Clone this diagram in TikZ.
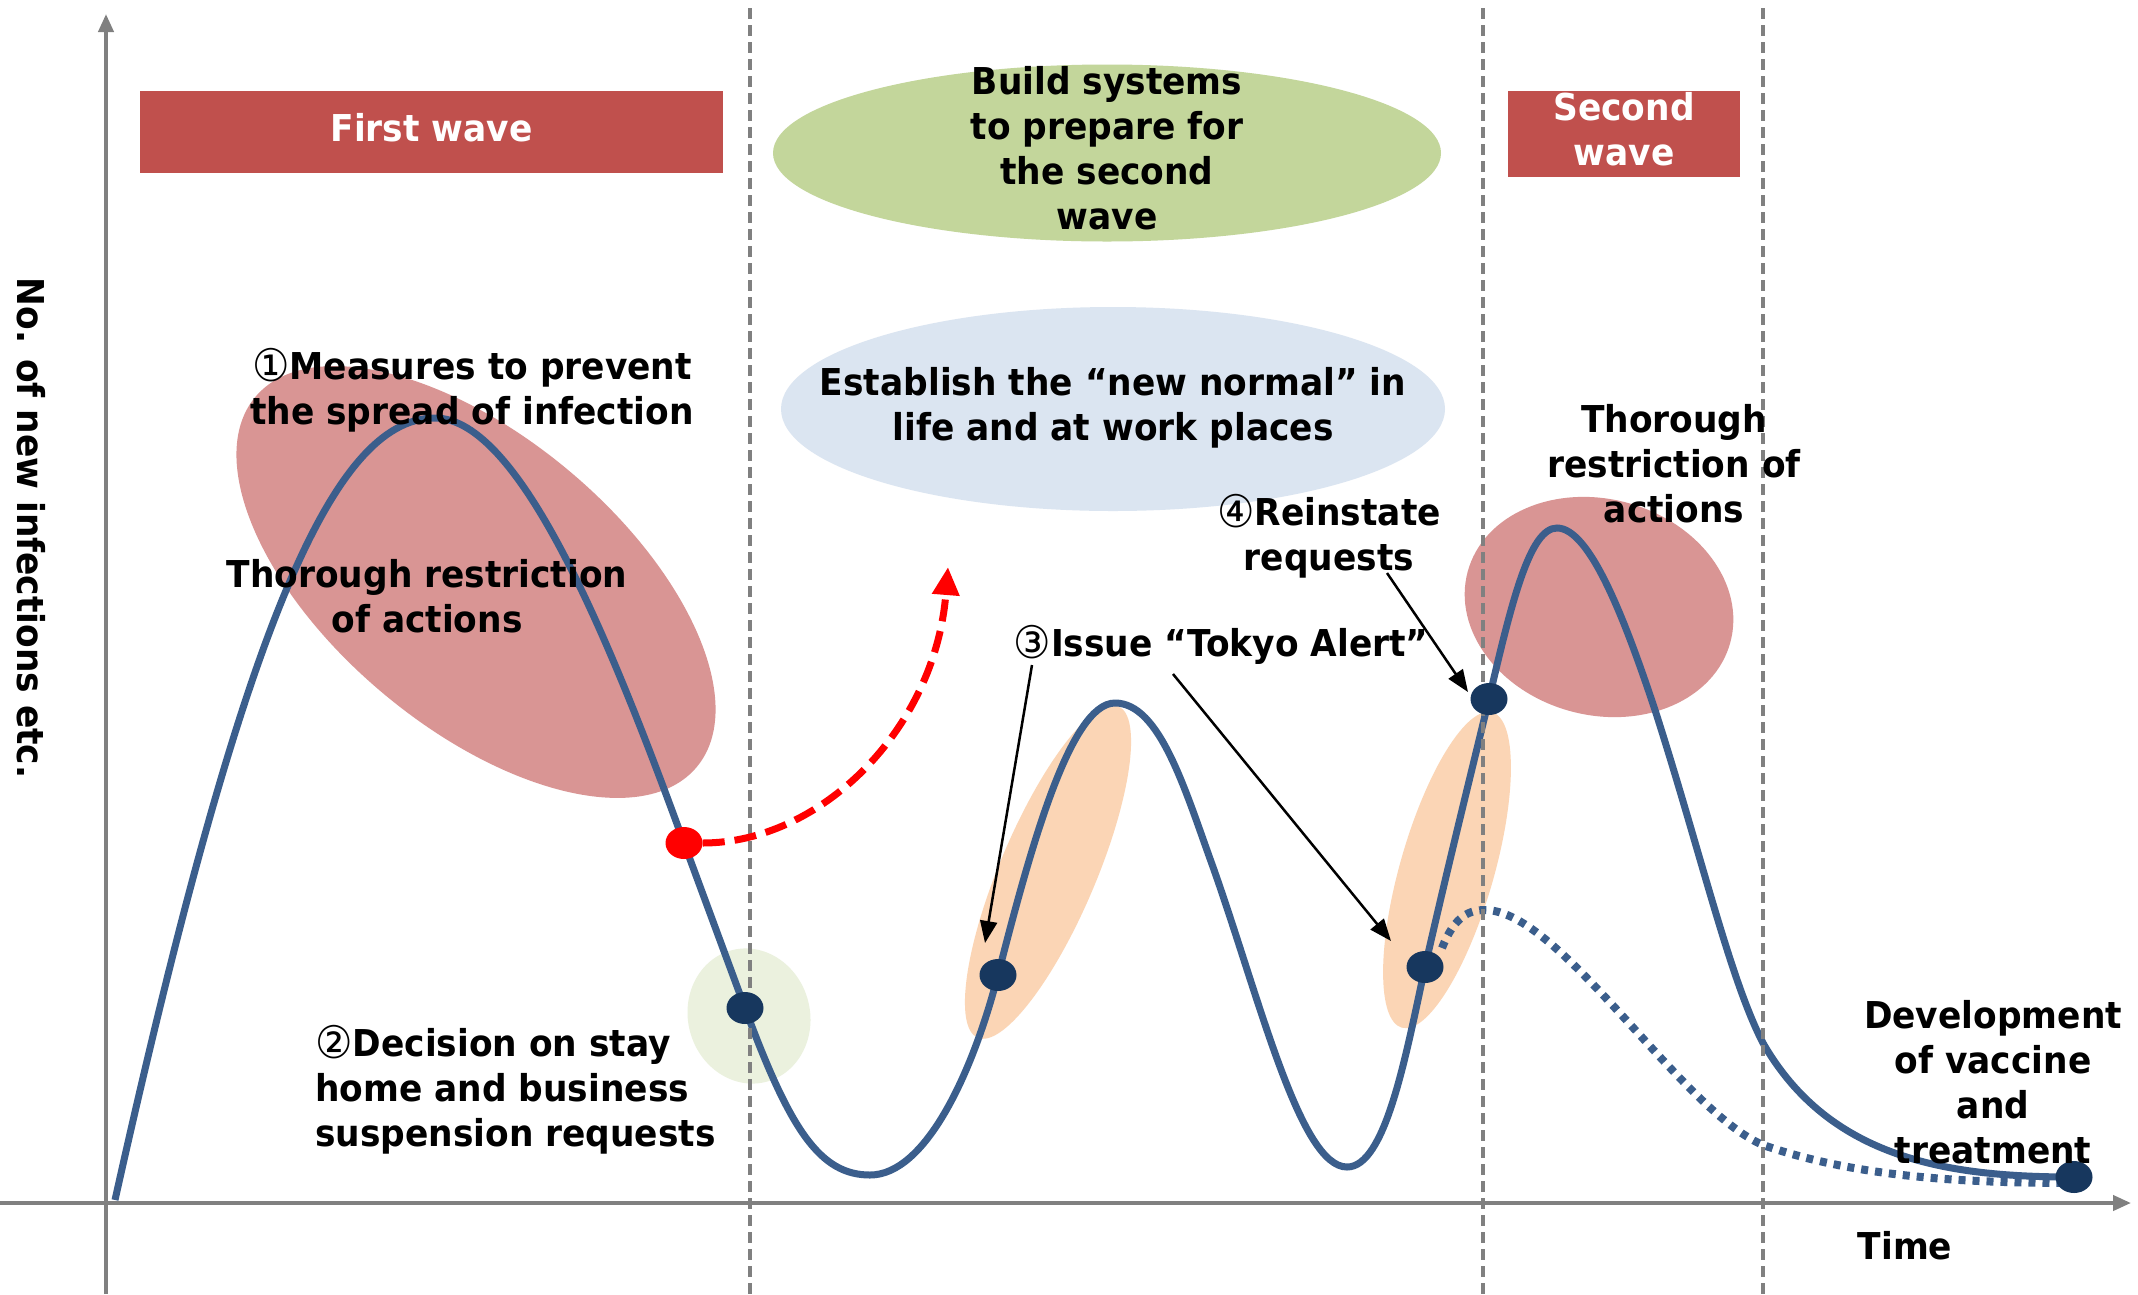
\documentclass[tikz,border=0pt]{standalone}
\usepackage{fontspec}
\setmainfont{DejaVu Sans}[FakeStretch=0.93]
\usetikzlibrary{shapes.geometric,arrows.meta}
\definecolor{wavered}{HTML}{C0504D}
\definecolor{pinkfill}{HTML}{D99594}
\definecolor{greenfill}{HTML}{C3D69B}
\definecolor{bluefill}{HTML}{DBE5F1}
\definecolor{orangefill}{HTML}{FBD5B5}
\definecolor{palegreen}{HTML}{EBF1DE}
\definecolor{curveblue}{HTML}{3B5E8C}
\definecolor{dotnavy}{HTML}{17375E}
\definecolor{axisgray}{HTML}{808080}
\newcommand\circnum[1]{{\mdseries\fontsize{45}{45}\selectfont\raisebox{-2pt}{#1}}}
\begin{document}
\begin{tikzpicture}[x=1pt,y=-1pt,
  txt/.style={font=\bfseries\fontsize{37}{45}\selectfont, align=center, inner sep=0pt},
  blob/.style={ellipse, draw=none, inner sep=0pt},
  navydot/.style={ellipse, fill=dotnavy, minimum width=37pt, minimum height=32pt, inner sep=0pt},
  banner/.style={rectangle, fill=wavered, inner sep=0pt},
  myaxis/.style={draw=axisgray, line width=4pt, -{Triangle[length=18pt,width=15pt]}},
  period/.style={draw=axisgray, line width=3.5pt, dash pattern=on 11pt off 6pt},
  mycurve/.style={draw=curveblue, line width=7pt},
  pointer/.style={draw=black, line width=2.5pt, -{Triangle[length=22pt,width=17pt]}},
]
\useasboundingbox (0,0) rectangle (2138,1294);
\fill[white] (0,0) rectangle (2138,1294);

% background ellipses
\node[blob, fill=pinkfill, minimum width=576pt, minimum height=290pt, rotate=-40] (redA) at (476,582) {};
\node[blob, fill=pinkfill, minimum width=272pt, minimum height=216pt, rotate=-15] (redB) at (1599,607) {};
\node[blob, fill=orangefill, minimum width=360pt, minimum height=96pt, rotate=67] (orA) at (1048,872) {};
\node[blob, fill=orangefill, minimum width=328pt, minimum height=94pt, rotate=74] (orB) at (1447,870) {};
\node[blob, fill=palegreen, minimum width=122pt, minimum height=136pt, rotate=15] (pg) at (749,1016) {};
\node[blob, fill=greenfill, minimum width=668pt, minimum height=177pt] (buildE) at (1107,153) {};
\node[blob, fill=bluefill, minimum width=664pt, minimum height=204pt] (normalE) at (1113,409) {};

% banners
\node[banner, minimum width=583pt, minimum height=82pt] (first) at (431.5,132) {};
\node[banner, minimum width=232pt, minimum height=86pt] (second) at (1624,134) {};

% curves
\draw[mycurve] (115,1200) .. controls (240,640) and (330,418) .. (435,418)
  .. controls (520,418) and (610,640) .. (684,843)
  -- (745,1008)
  .. controls (790,1130) and (820,1175) .. (870,1175)
  .. controls (925,1175) and (972,1075) .. (998,975)
  .. controls (1030,850) and (1070,703) .. (1115,703)
  .. controls (1160,703) and (1185,790) .. (1213,867)
  .. controls (1260,1000) and (1300,1167) .. (1347,1167)
  .. controls (1385,1167) and (1405,1060) .. (1425,967)
  .. controls (1447,870) and (1467,790) .. (1489,699)
  .. controls (1512,600) and (1530,528) .. (1557,528)
  .. controls (1590,528) and (1625,620) .. (1655,710)
  .. controls (1700,850) and (1730,980) .. (1763,1043)
  .. controls (1830,1160) and (1950,1177) .. (2074,1177);
\draw[draw=curveblue, line width=8pt, dash pattern=on 7pt off 7pt]
  (1442,948) .. controls (1455,915) and (1470,910) .. (1485,910)
  .. controls (1560,910) and (1680,1110) .. (1763,1145)
  .. controls (1850,1175) and (1950,1183) .. (2074,1183);

% period lines and axes
\coordinate (p1t) at (750,8);   \coordinate (p1b) at (750,1294);
\coordinate (p2t) at (1483,8);  \coordinate (p2b) at (1483,1294);
\coordinate (p3t) at (1763,8);  \coordinate (p3b) at (1763,1294);
\draw[period] (p1t) -- (p1b);
\draw[period] (p2t) -- (p2b);
\draw[period] (p3t) -- (p3b);
\coordinate (yb) at (106,1294); \coordinate (yt) at (106,14);
\coordinate (xl) at (0,1203);   \coordinate (xr) at (2131,1203);
\draw[myaxis] (yb) -- (yt);
\draw[myaxis] (xl) -- (xr);

% dots
\node[navydot, fill=red] (rd) at (684,843) {};
\node[navydot] (d1) at (745,1008) {};
\node[navydot] (d2) at (998,975) {};
\node[navydot] (d3) at (1425,967) {};
\node[navydot] (d4) at (1489,699) {};
\node[navydot] (d5) at (2074,1177) {};

% red dashed arrow
\coordinate (redtip) at (948,567);
\draw[red, line width=7pt, dash pattern=on 22pt off 10pt, -{Triangle[length=28pt,width=26pt]}]
  (rd.east) .. controls (820,843) and (935,730) .. (redtip);

% texts
\node[txt, text=white] (firstT) at (431.5,128) {First wave};
\node[txt, text=white] (secondT) at (1624,129) {Second\\wave};
\node[txt] (build) at (1107,148) {Build systems\\to prepare for\\the second\\wave};
\node[txt] (normal) at (1113,408) {Establish the “new normal” in\\life and at work places};
\node[txt] (measures) at (472,390) {\circnum{①}Measures to prevent\\the spread of infection};
\node[txt] (thorA) at (427,596) {Thorough restriction\\of actions};
\node[txt, anchor=west, align=left] (decision) at (315,1090) {\circnum{②}Decision on stay\\home and business\\suspension requests};
\node[txt] (alert) at (1221,645) {\circnum{③}Issue “Tokyo Alert”};
\node[txt] (reinstate) at (1329,536) {\circnum{④}Reinstate\\requests};
\node[txt] (thorB) at (1674,464) {Thorough\\restriction of\\actions};
\node[txt] (vaccine) at (1993,1082) {Development\\of vaccine\\and\\treatment};
\node[txt] (time) at (1905,1246) {Time};
\node[txt, rotate=-90] (ylab) at (31,528) {No. of new infections etc.};

% pointers
\coordinate (a3s1) at (1032,665); \coordinate (a3e1) at (985,943);
\coordinate (a3s2) at (1173,674); \coordinate (a3e2) at (1391,941);
\coordinate (a4s) at (1387,573);  \coordinate (a4e) at (1468,692);
\draw[pointer] (a3s1) -- (a3e1);
\draw[pointer] (a3s2) -- (a3e2);
\draw[pointer] (a4s) -- (a4e);
\end{tikzpicture}
\end{document}
